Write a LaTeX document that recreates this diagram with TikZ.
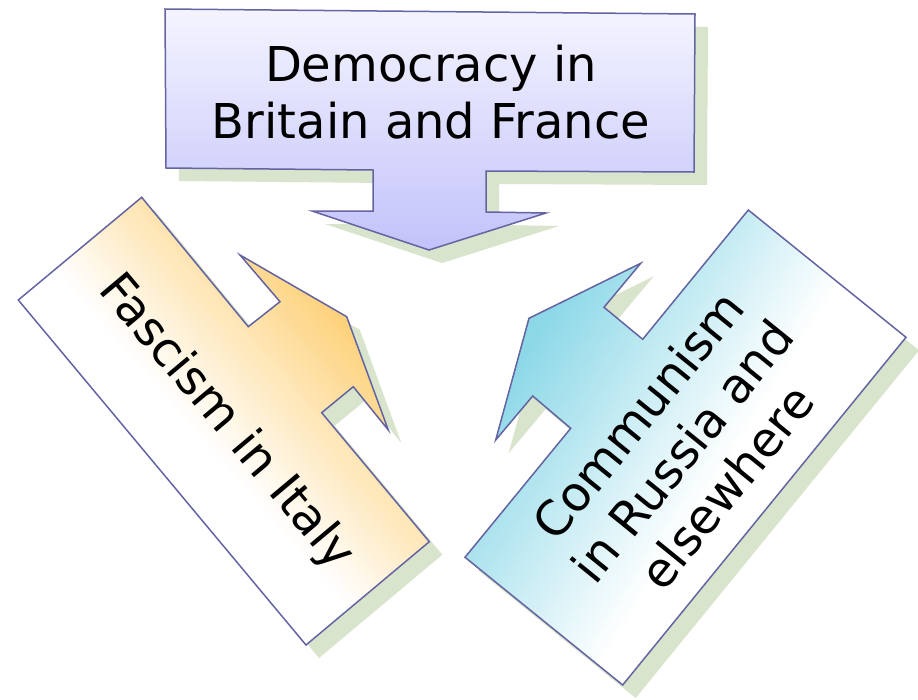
\documentclass[tikz,border=0pt]{standalone}
\usepackage{fontspec}
\setmainfont{DejaVu Sans}
\definecolor{edge}{RGB}{100,100,162}
\definecolor{shadowgreen}{RGB}{217,228,204}
\definecolor{lavtop}{RGB}{244,244,255}
\definecolor{lavbot}{RGB}{194,194,250}
\definecolor{warm}{RGB}{253,206,112}
\definecolor{aqua}{RGB}{134,214,230}
% outlines of the three callout arrows (x right, y down, in px)
\def\democracyoutline{(165,9) -- (695,14) -- (694,172) -- (486,171) -- (486,212) -- (546,213) -- (429,250) -- (312,211) -- (373,211) -- (373,170) -- (166,168) -- cycle}
\def\fascismoutline{(141.7,197.3) -- (248.3,326.7) -- (280,301.7) -- (240,255) -- (346.7,316.7) -- (388.3,430) -- (353.3,386.7) -- (321.7,412.7) -- (429.3,541.7) -- (306,645) -- (18.3,300) -- cycle}
\def\communismoutline{(748.3,210) -- (906,337.3) -- (622.7,685) -- (465,557.3) -- (570.7,428.3) -- (532.7,396) -- (495.7,440) -- (529,318.3) -- (640.7,263.3) -- (604,307.3) -- (642.7,339.3) -- cycle}
\begin{document}
\begin{tikzpicture}[x=1pt,y=-1pt,
  outline/.style={draw=edge, line width=1.5pt, line join=miter},
  shadowfill/.style={fill=shadowgreen, shift={(13,13)}},
  caption/.style={font=\fontsize{48}{57}\selectfont, align=center, text=black, inner sep=0pt}]
\useasboundingbox[fill=white] (0,0) rectangle (918,699);

% drop shadows
\fill[shadowfill] \democracyoutline;
\fill[shadowfill] \fascismoutline;
\fill[shadowfill] \communismoutline;

% top callout: vertical lavender gradient
\shadedraw[outline, top color=lavtop, bottom color=lavbot] \democracyoutline;

% left callout: white along the lower-left side, orange toward the arrow
% (gradient built from overlapping bands in a rotated frame)
\begin{scope}
  \clip \fascismoutline;
  \begin{scope}[shift={(18.3,300)}, rotate=41]
    \foreach \i in {0,...,60} {
      \pgfmathsetmacro\xa{-20+4.5*\i}
      \pgfmathtruncatemacro\pc{min(100,max(0,(\xa-45)/2.0))}
      \fill[warm!\pc!white] (\xa,-150) rectangle (420,650);
    }
  \end{scope}
\end{scope}
\draw[outline] \fascismoutline;

% right callout: white along the lower-right side, aqua toward the arrow
\begin{scope}
  \clip \communismoutline;
  \begin{scope}[shift={(622.7,685)}, rotate=148]
    \foreach \i in {0,...,80} {
      \pgfmathsetmacro\xa{-100+4.5*\i}
      \pgfmathtruncatemacro\pc{min(100,max(0,(\xa-25)/2.45))}
      \fill[aqua!\pc!white] (\xa,-700) rectangle (450,700);
    }
  \end{scope}
\end{scope}
\draw[outline] \communismoutline;

% texts
\node[caption] (democracy) at (431,92) {Democracy in\\Britain and France};
\node[caption, rotate=-50] (fascism) at (226,423) {Fascism in Italy};
\node[caption, rotate=51] (communism) at (682,451) {Communism\\in Russia and\\elsewhere};
\end{tikzpicture}
\end{document}
